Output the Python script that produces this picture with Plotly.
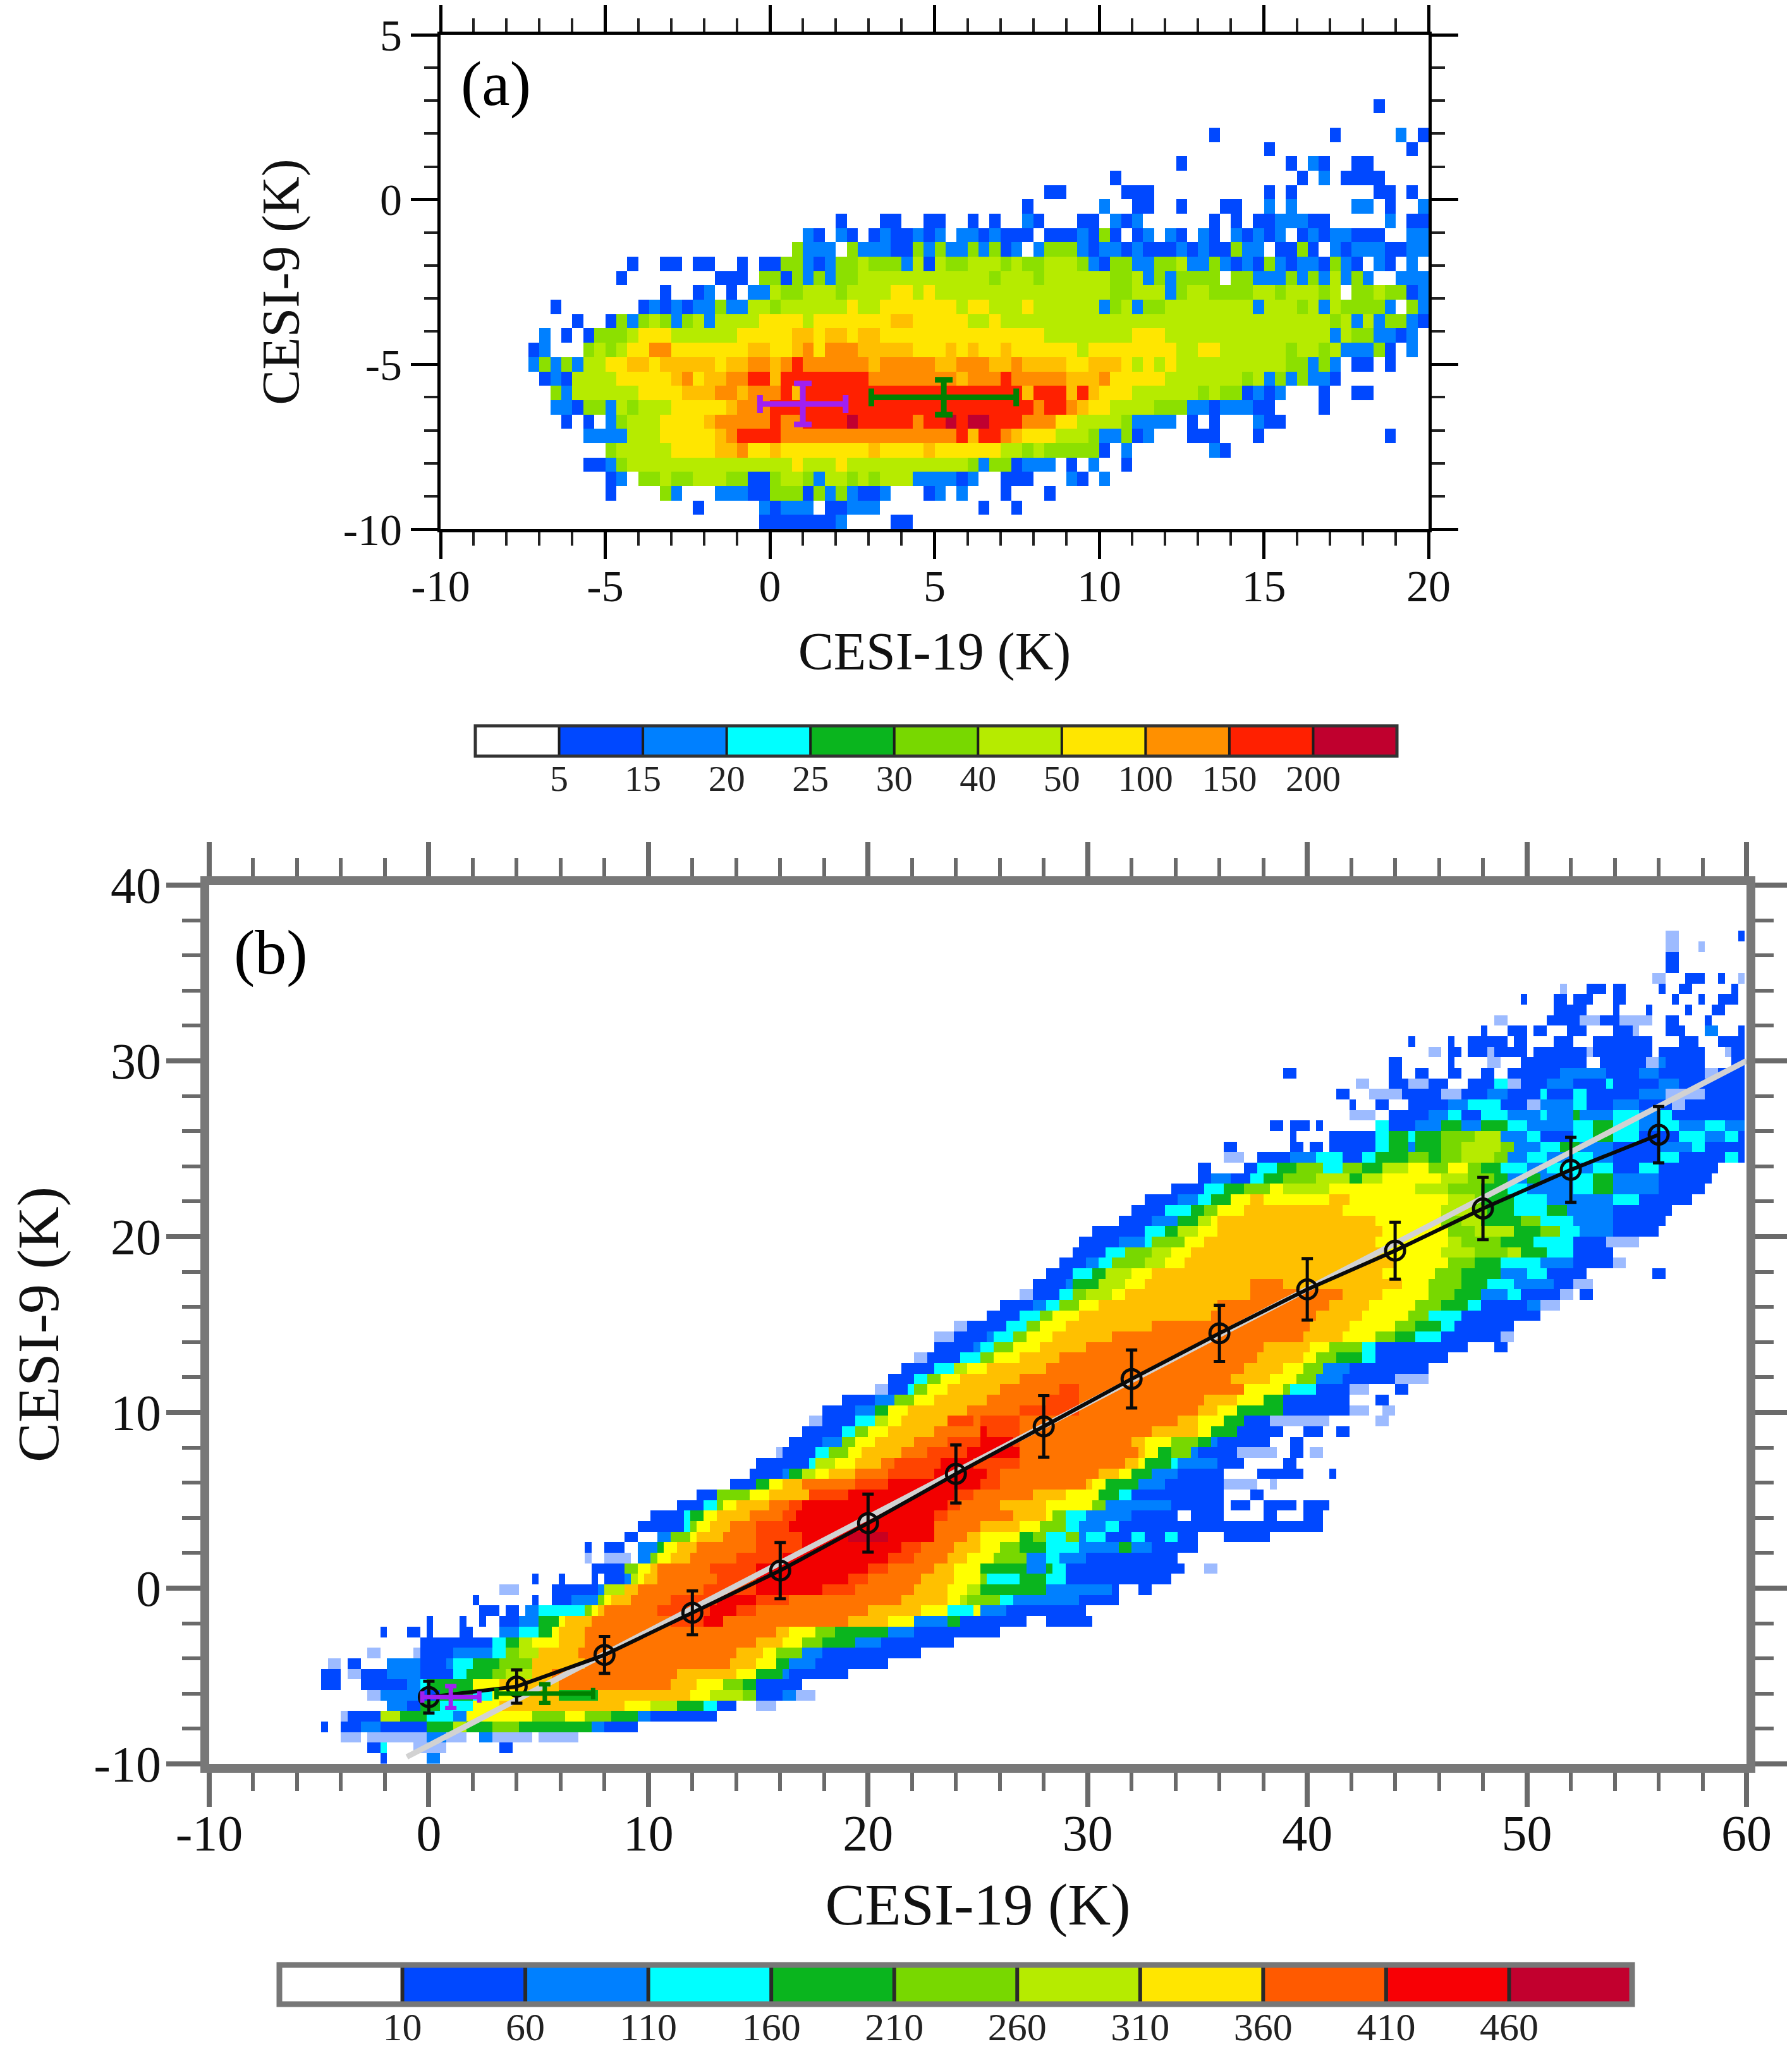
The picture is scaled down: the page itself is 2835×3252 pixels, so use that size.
"""Two-panel CESI-9 vs CESI-19 density scatter, rebuilt from class maps read off the figure."""

import numpy as np
import plotly.graph_objects as go

# page body keeps its default 8px margin, so the figure is that much smaller
PAD = 8
W, H = 2835 - 2 * PAD, 3252 - PAD
SERIF = "Liberation Serif, Times New Roman, serif"

# ── class colours ───────────────────────────────────────────────────────────
COLORS_A = ["#FFFFFF", "#0048FF", "#0080FF", "#00FFFF", "#0AB51E", "#8CE000",
            "#B6EB00", "#FFE600", "#FFBF00", "#FF8C00", "#FF2000", "#C00030"]
COLORS_B = ["#FFFFFF", "#0048FF", "#0080FF", "#00FFFF", "#0AB51E", "#78D800",
            "#B6EB00", "#FFFF00", "#FFC000", "#FF7400", "#FF4400", "#F20000",
            "#C80020", "#9DBBFF"]
BAR_COLORS_A = ["#FFFFFF", "#0048FF", "#0080FF", "#00FFFF", "#0AB51E", "#78D800",
                "#B6EB00", "#FFE600", "#FF9000", "#FF2000", "#C0002E"]
BAR_COLORS_B = ["#FFFFFF", "#0048FF", "#0080FF", "#00FFFF", "#0AB51E", "#78D800",
                "#B6EB00", "#FFE600", "#FF5A00", "#F80005", "#C2002E"]
BAR_LABELS_A = ["5", "15", "20", "25", "30", "40", "50", "100", "150", "200"]
BAR_LABELS_B = ["10", "60", "110", "160", "210", "260", "310", "360", "410", "460"]

# ── panel (a): row | column:class runs (column = 1/3 K, row = 0.435 K) ──────
ROWS_A = [
    "29|85:1 86:0",
    "27|70:1 71:0 81:1 82:0 87:2 88:0 89:1",
    "26|75:1 76:0 88:1 89:0",
    "25|67:1 68:0 77:1 78:0 79:2 80:1 81:0 83:1 85:0",
    "24|61:1 62:0 78:1 79:0 80:2 81:0 82:1 86:0",
    "23|55:1 57:0 62:1 65:0 75:1 76:0 77:1 78:0 85:1 87:0 88:1 89:0",
    "22|53:1 54:0 60:2 61:0 63:1 65:0 67:1 68:0 71:1 73:0 75:2 76:0 77:2 78:0 83:2 85:0 86:1 87:0 89:2",
    "21|36:1 37:0 40:1 42:0 44:1 46:0 48:1 49:0 50:1 51:0 53:2 54:1 55:0 58:1 60:0 61:2 62:1 63:2 64:0 70:1 71:0 72:1 73:0 74:1 76:2 79:1 81:0 86:2 87:0 88:1",
    "20|33:2 34:1 35:0 36:2 37:1 38:0 39:1 40:2 41:1 43:2 44:1 45:2 46:0 47:2 49:1 50:2 51:1 54:0 55:1 58:2 59:1 60:5 61:1 62:0 63:1 64:2 65:0 66:2 67:1 68:0 69:2 70:1 71:0 72:2 73:1 74:2 75:1 76:2 77:0 78:1 79:2 80:1 81:2 83:1 86:0 88:2",
    "19|32:5 33:2 36:0 37:5 38:2 41:1 43:5 44:2 45:5 46:2 48:5 49:2 50:5 51:1 52:2 53:0 54:2 55:5 58:2 59:1 60:2 62:1 63:2 64:1 67:2 68:1 69:2 70:1 72:5 73:2 75:0 76:1 78:5 79:1 80:0 81:2 82:1 83:2 86:1 88:2",
    "18|17:1 18:0 20:1 22:0 23:1 25:0 27:1 28:0 29:1 31:5 33:2 34:1 35:2 36:5 38:6 39:5 42:2 43:6 44:1 45:6 46:5 48:6 51:5 52:6 53:5 55:6 58:5 59:2 60:1 61:5 63:2 65:5 67:6 68:2 70:5 71:2 72:1 73:2 74:1 75:5 76:2 77:1 78:2 80:1 81:5 82:2 83:1 84:0 85:2 86:1 87:0 88:2 89:0",
    "17|16:1 17:0 25:1 28:0 29:5 31:1 32:5 33:2 34:5 35:2 36:5 38:6 50:5 51:6 54:5 55:6 61:5 63:6 64:2 65:5 66:2 67:5 71:0 72:5 74:2 77:5 78:2 79:5 80:2 81:6 82:2 83:5 84:2 85:0 87:2",
    "16|20:1 21:0 23:1 24:2 25:0 26:1 27:0 28:2 30:6 31:5 33:6 36:5 37:6 41:7 43:6 44:7 45:6 61:5 63:6 66:2 67:5 68:6 70:5 74:6 76:5 77:6 80:5 81:6 82:0 83:5 85:6 86:5 88:1 89:2",
    "15|10:1 11:0 18:1 19:2 20:1 21:2 22:1 23:2 25:5 26:2 28:6 30:5 31:6 37:7 38:6 40:7 47:6 48:7 50:6 53:7 54:6 60:2 61:5 62:6 63:2 64:5 66:6 74:2 75:6 78:5 79:6 80:2 81:6 82:5 86:2 87:0 88:5 89:2",
    "14|12:1 13:0 15:1 16:5 17:2 18:5 19:6 20:5 21:2 22:5 23:6 24:2 25:6 29:7 33:6 34:7 41:8 43:7 48:6 50:7 51:6 81:5 82:6 83:2 84:6 85:2 86:5 88:2 89:1",
    "13|9:2 10:0 11:1 12:0 13:1 14:5 17:6 18:7 21:6 27:7 32:8 34:7 35:8 37:7 38:8 40:7 55:6 63:7 66:6 81:2 82:6 83:5 85:2 87:1 88:2 89:0",
    "12|8:1 9:2 10:0 13:5 14:6 15:5 16:6 17:7 19:9 21:7 28:8 30:7 32:8 33:9 34:7 35:9 38:8 43:7 46:8 47:7 48:8 49:7 51:8 52:7 58:6 59:7 67:6 69:7 71:6 77:5 78:6 80:5 81:6 82:2 85:5 86:1 87:0 88:2 89:0",
    "11|8:2 9:5 10:2 11:5 12:2 13:6 15:7 17:8 19:7 20:8 25:7 26:8 28:9 30:8 31:9 32:A 33:9 39:8 40:9 45:8 47:9 50:8 52:9 53:8 57:7 59:8 62:7 63:6 64:7 65:6 66:7 67:6 77:5 79:2 80:5 81:2 82:0 83:1 85:0 86:1 87:0",
    "10|9:1 10:2 11:1 12:6 16:7 21:8 22:9 23:7 24:8 26:9 28:A 30:8 31:A 39:9 47:8 48:9 51:A 52:9 57:8 60:9 61:7 66:6 73:5 74:6 75:2 76:5 77:2 78:5 79:2 81:1 82:0",
    "9|10:5 11:2 12:6 18:7 22:8 25:9 27:8 28:9 31:A 32:8 33:A 53:8 54:A 57:8 58:A 59:8 60:7 63:6 69:5 70:6 71:5 73:1 74:2 75:1 76:2 77:0 80:1 81:0 83:1 85:0",
    "8|10:2 12:1 13:5 15:2 16:6 17:5 18:6 21:7 26:8 27:9 30:A 54:9 55:A 57:9 58:8 59:7 61:6 65:5 68:2 70:1 71:2 74:1 76:0 80:1 81:0",
    "7|11:1 12:0 13:1 14:0 15:2 16:5 17:6 20:7 24:8 25:9 30:A 31:9 33:A 37:B 38:A 43:9 44:A 46:B 47:A 48:B 50:A 53:9 56:7 58:6 62:5 63:2 67:0 68:1 69:0 70:1 71:0 74:2 75:1 77:0",
    "6|13:2 17:6 20:7 25:8 26:9 27:A 31:9 47:A 48:8 49:A 51:9 52:8 53:7 56:6 59:5 60:2 62:5 63:1 64:2 65:0 68:1 71:0 74:1 75:0 86:1 87:0",
    "5|15:5 16:6 21:7 25:8 27:9 28:7 30:8 31:7 39:8 40:7 44:8 45:7 51:6 53:5 54:6 55:5 60:1 61:0 62:2 63:0 70:2 71:1 72:0",
    "4|13:1 15:2 16:5 17:6 32:7 33:6 36:7 37:6 48:5 49:2 50:5 52:1 53:2 56:0 57:1 58:0 59:2 60:0 62:1 63:0",
    "3|15:1 16:2 17:0 18:5 20:6 21:5 23:6 26:5 28:1 30:5 31:6 33:5 34:2 35:6 37:5 38:6 39:5 40:6 43:2 47:1 48:2 49:0 51:1 54:0 57:2 58:1 59:0 60:2 61:0",
    "2|15:1 16:0 20:5 21:2 22:0 25:2 28:1 30:5 33:1 34:5 35:2 36:5 37:2 38:1 40:2 41:0 44:1 45:2 46:0 47:2 48:0 51:1 52:0 55:1 56:0",
    "1|23:1 24:0 29:2 30:1 31:2 34:0 35:1 37:2 40:0 49:1 50:0 52:1 53:0",
    "0|29:1 36:2 37:0 41:1 43:0",
]

# ── panel (b): y centre | x(K):class runs ───────────────────────────────────
ROWS_B = [
    "37.1|56.2:D 56.8:0 59.7:1",
    "36.5|56.2:D 56.8:0 57.7:D 58.1:0",
    "35.9|56.3:1 56.9:0",
    "35.3|56.3:1 56.9:0",
    "34.7|55.6:D 56.3:0 57.3:1 58.2:0 58.8:1 59.1:0 59.7:D",
    "34.1|51.5:D 51.8:0 52.8:1 53.7:0 54:1 54.5:0 56:1 56.2:0 57:1 57.6:0 59.2:1 59.5:0",
    "33.5|49.6:1 49.9:0 51.3:1 51.8:0 52:1 53:0 53.9:1 54.5:0 56.5:1 56.8:0 57.8:1 58.1:0 58.8:1 59.5:0",
    "32.9|51.3:1 52.7:0 53.9:1 54.3:0 55.4:1 55.8:0 57.2:1 57.6:0 58.4:1 59:0",
    "32.3|48.4:D 49.1:0 51:1 52.3:D 53.2:1 54.2:D 55.8:0 56.3:1 56.8:0 58:1 58.4:0",
    "31.7|47.8:1 48.1:0 49.2:1 50:0 50.4:1 50.9:0 51.9:1 52.7:0 53.9:1 54.9:D 55.2:0 56.3:1 57.2:0 58:2 58.7:0 59.7:1",
    "31.1|44.6:1 45:0 46.3:1 46.8:0 47.2:1 49.1:0 49.3:1 50:0 51.1:1 52:0 53:1 53.8:0 54:1 55.8:0 57:1 57.8:0 58.8:1",
    "30.5|45.5:D 46:0 46.3:1 46.9:0 47.4:1 48.1:D 48.4:1 50:0 50.4:1 52.7:D 53:1 55.8:0 56.1:1 58.2:0 58.9:D 59.4:1",
    "29.9|43.8:1 44.2:0 46.3:1 46.8:0 48.2:D 48.8:0 49.6:1 52.8:0 53.4:1 55.4:D 56:2 56.4:1 58.2:0 59.2:1",
    "29.3|39:1 39.6:0 43.8:1 44.3:0 45:1 45.5:0 46.3:1 47:0 47.9:1 48.4:0 49.2:1 51.5:2 53.5:1 55:2 56:1 58.2:D 58.7:1",
    "28.7|42.2:D 42.7:0 43.8:1 44.6:D 45.5:1 46.3:0 47.2:1 48.4:3 49:D 49.6:1 51:2 52:1 53.5:3 54:1 56:2 57:1 60:0",
    "28.1|41.3:1 41.8:0 42.8:D 44.4:1 46:D 47:1 48.2:2 49:1 50.6:3 51:1 52:3 52.6:1 55:2 56.4:D 58:1",
    "27.5|42:1 42.2:0 43.1:1 43.7:0 44.6:1 46.5:2 47.2:3 48.9:1 50:D 50.7:2 52:3 52.6:1 54:2 55:1 56.5:D 57.2:1",
    "26.9|42:D 43:0 43.7:1 45.5:2 46.5:3 47:1 48:3 49:2 50.6:3 51:2 52:4 52.5:2 54:3 55:2 56:3 56.5:1",
    "26.3|38.2:1 38.8:0 39.1:1 40:0 40.5:1 40.8:0 43:3 43.7:1 45:2 46:4 47:2 48:4 49:3 50:2 52:3 53:4 54:3 55:2 56:3 57:2 58:3 59:2",
    "25.7|39.1:1 39.6:0 41.1:1 43.1:3 43.7:4 44.6:3 45:4 46:5 47.5:6 48.9:2 50:3 50.6:1 52:3 53:4 54:3 55:1 57:3 58:2 59:3 59.6:1",
    "25.1|36.3:1 36.9:0 39.3:1 39.7:0 40.2:1 40.8:0 41.1:1 43.1:3 43.7:4 44.6:2 45:4 46:5 47:6 48.9:5 49.4:2 50.5:3 51.5:4 52.3:2 54:1 56:2 57.5:3 58:1",
    "24.5|36.3:D 37:0 37.8:1 39.2:2 40.5:3 41.5:1 42.4:3 43.2:4 44.5:5 45.5:4 46:5 47:6 48.5:5 49:2 50:3 51:2 52:3 53:2 54:1 56:3 57:1 59:3 59.6:1",
    "23.9|35:1 35.6:0 37:1 37.8:3 38.6:4 39.6:5 40.8:3 41.6:5 42.5:4 43.5:6 44.5:7 45.4:5 46.3:7 47.2:5 48:4 48.9:3 50:2 51:3 52.5:2 53:3 54:1 55:3 56:1 58.8:0",
    "23.3|35:1 35.5:2 36.6:1 37.4:3 38:4 39:5 40.5:6 41.8:4 42.4:6 43.5:7 46:6 47.3:5 48.4:4 49:2 50:4 50.7:2 52:3 53:4 54:2 56:1 58.5:0",
    "22.7|33.9:1 35.4:3 36.2:4 37.2:5 38.4:7 39:6 41:7 45:6 46.5:5 47.8:4 49:3 50:2 52:3 53:4 54:2 56:1 58.2:0",
    "22.1|32.7:1 34:2 35:3 35.6:4 36.5:7 37.5:8 38:7 41:8 42:7 46.3:6 47.5:5 48:4 49.3:3 51:2 54:3 55:1 57.4:0",
    "21.5|32:1 33.5:3 34.6:4 35.2:5 36:7 37:8 41.5:7 46:6 47.5:5 48.2:4 49.5:3 51:4 51.8:2 54:1 56.7:0",
    "20.9|31.3:1 33:2 34:4 35:6 35.5:7 36:8 43:7 46:5 47:6 48:4 49.7:5 50.6:3 52:2 53.8:1 56.3:0",
    "20.3|30.2:1 32.5:3 33.4:4 34.2:6 35:7 36:8 43.5:7 46.5:5 47.5:6 49.5:4 50.6:5 51.5:3 52.5:2 54:1 56:0",
    "19.7|29.7:1 31.5:2 32.6:3 33:5 34.5:7 35.2:8 43:7 46.3:6 47:5 48.7:4 50.2:3 52:1 53.7:D 55.2:0",
    "19.1|29.3:1 30.8:3 31.6:5 33:6 33.8:7 34.8:8 43.5:7 46.2:6 47.5:5 49:6 49.8:4 51:3 52.2:1 54:0",
    "18.5|28.7:1 30:2 30.5:3 31:5 32.5:6 33.4:7 34.4:8 44:7 46.5:5 47.6:4 48.8:3 50.5:2 52:1 53.8:D 54.5:0",
    "17.9|28:1 29.3:3 30.2:4 30.7:6 32:7 33:8 43.5:7 45.8:5 47:4 48.7:2 50:3 51:1 52.8:0 55.7:1 56.3:0",
    "17.3|27.5:1 29:2 29.4:4 30.5:6 31.6:7 32.5:8 37.5:9 39:8 44.2:7 45.6:5 47:4 48.3:3 49.5:2 51.3:1 52.2:D 53:0",
    "16.7|27:D 27.5:1 28.7:3 29.3:5 30:6 31:7 31.7:8 37.5:9 41.5:8 43.5:7 45.5:5 46.7:4 47.8:2 49:3 49.8:1 51.5:D 52:0 52.4:1 53:0",
    "16.1|26:1 27.5:2 28.2:3 28.8:5 29.5:7 30.5:8 36:9 41:8 42.7:7 44.8:5 46:4 47.3:3 48:1 50:2 50.7:D 51.5:0",
    "15.5|25.5:1 27:3 27.8:5 28.5:7 29.5:8 35.5:9 40.5:8 42.5:7 44.5:5 45.5:3 47:1 50.6:0",
    "14.9|23.8:D 24.5:1 26.3:3 27.1:5 27.9:7 29:8 33:9 40:8 42:7 44:5 45:4 46:3 46.8:1 49.5:0",
    "14.3|22.9:D 24:1 25.5:2 25.8:3 26.5:5 27.3:7 28.5:8 31:9 39.8:8 41.6:7 43:5 44:4 45:3 46:1 48.7:D 49.3:0",
    "13.7|23:1 24.7:2 25.2:3 25.7:5 26.5:7 27.7:8 30:9 38:8 40.1:7 41:5 42.6:3 43:1 47.4:0 48.5:1 49:0",
    "13.1|22:D 22.6:1 24.2:3 25:5 25.7:7 26.8:8 28.8:9 37.7:8 39.8:7 40.5:5 41.3:4 42.6:3 43:1 46.3:0",
    "12.5|21.5:1 23:3 23.8:6 24.6:7 25.5:8 28:9 37:8 38.8:7 39.8:5 40.8:2 42:1 45.5:0",
    "11.9|20.8:1 22.1:3 22.7:5 23.3:7 24.2:8 27:9 36.5:8 38.3:7 39.5:5 40.5:2 41.7:1 44:D 45.5:0",
    "11.3|20.3:D 20.9:1 21.7:3 22.2:5 22.8:7 23.5:8 26:9 28.8:A 29.7:9 37:7 38.8:5 39.2:3 40.4:1 41.8:D 42.7:0 44:1 44.6:0",
    "10.7|18.8:1 20.3:2 21.2:5 22:7 23:8 25.5:9 28:A 29.7:9 35.4:8 36.9:7 38:4 39:1 41.9:0 43.2:1 43.8:0",
    "10.1|17.9:1 19.5:2 20.2:4 20.9:7 21.8:8 24.5:9 27:A 29.7:9 35:8 35.9:7 36.9:4 38.8:1 41.9:D 42.7:0 43.3:D 44:0",
    "9.5|17.3:D 18:1 19.5:3 20.2:6 20.8:7 21.5:8 23.7:A 24.7:9 25:A 27:9 34:8 35:7 36.3:4 37:1 38.3:D 41:0 43.2:D 43.8:0",
    "8.9|16.9:1 18.7:3 19.4:5 20:7 21:8 23:9 25:B 25.5:A 27:9 33:8 34.9:7 35.5:4 36.9:1 38.8:0 39.8:1 40.8:0 41.4:1 41.8:0",
    "8.3|16.5:1 18:2 18.8:5 19.5:7 20.4:8 22:9 23.7:A 25:B 26.5:A 27:9 32:8 32.7:7 33.8:5 35:4 35.6:2 36:1 38.3:0 39.2:1 39.7:0",
    "7.7|15.7:D 16:1 17.7:3 18.2:5 19:7 19.8:8 21.5:9 22.7:A 24.5:B 27:9 32.3:8 32.7:7 33.2:4 33.8:5 34.8:2 35:1 36.9:D 38.6:0 39.2:1 39.7:0 40.2:D 40.6:0",
    "7.1|15:1 17.2:3 17.7:6 18.5:7 19.5:8 20.5:9 21.2:A 23.4:B 24.9:A 26.8:9 31.6:8 32.3:7 32.7:4 33.8:3 34:2 35.8:1 37.2:0 39:1 39.5:0",
    "6.5|14.5:1 16:2 16.5:4 17:6 17.5:7 18.3:8 19.5:9 21:A 23:B 25.3:A 26:9 30.5:8 31.3:7 32:4 33:2 34:1 36.3:0 37.7:1 39.8:0 41:1 41.3:0",
    "5.9|13.8:1 15:4 15.4:7 16.1:8 17.1:9 19.4:A 21:B 25:A 26:9 29.8:8 30.3:7 30.8:4 32.2:2 33.5:1 36.3:D 37.6:0 38.3:D 38.7:0",
    "5.3|12.3:1 13.1:5 14.6:7 15.4:8 17.3:A 19:B 24:A 24.7:9 27.5:8 29:7 30.5:4 31.3:3 31.9:1 36.1:0 37.3:1 38:0",
    "4.7|11.4:1 12.6:3 13:5 13.5:7 14:8 15.5:9 16.5:A 17:B 23.5:A 24.2:9 26:8 28:7 30.1:5 30.8:2 33.8:1 36.3:0 36.6:1 37.4:0 38:1 39.4:0 39.7:1 41:0",
    "4.1|10.1:1 11.5:3 12:4 12.4:7 13:8 14.5:9 16:A 16.8:B 23:A 23.7:9 26.6:8 28:7 28.3:5 29:3 30:2 31.9:1 34:0 34.7:1 36.1:0 38.1:1 38.6:0 39.7:1 40.8:0",
    "3.5|9.6:1 11.5:3 11.9:5 12.3:7 12.8:8 13.7:9 15:A 16.5:B 23:9 25.1:8 27:7 27.9:5 29.1:3 29.5:2 30.7:3 31.3:1 40.8:0",
    "2.9|8.8:1 9.6:0 10.4:2 11.1:5 11.8:7 12.2:8 13.3:9 15:A 17:B 19:C 21:B 23:9 24.5:8 25:7 26.9:4 27.6:5 28:3 29:5 29.5:2 30:3 30.8:1 32:3 32.7:1 33.5:3 34:1 35:0 36.3:1 38.2:0",
    "2.3|7:1 7.3:0 8.1:1 8.9:0 9.6:2 10.4:4 10.8:7 11.3:8 12.1:9 15:A 17:B 21.5:A 22.5:9 24:8 25:7 26.1:5 27:4 28:3 29.5:2 31.3:4 31.9:2 33:1 35:0",
    "1.7|7:D 7.5:0 8.1:D 9.1:0 9.6:2 10:5 10.4:7 11:8 11.9:9 14:A 16:B 21:A 22:9 23.7:8 24.5:7 25.8:5 27.2:2 28:3 28.6:2 30:1 34:0",
    "1.1|7.5:1 8.9:4 9:5 9.6:7 10:8 10.4:9 12.9:A 15:B 20:A 21:9 23:8 24:7 25:4 27.2:2 28:4 28.4:3 29:1 34.5:0 35.4:D 36:0",
    "0.5|4.7:1 5:0 6:1 6.2:0 7.3:1 7.8:0 8.1:1 8.8:2 9.1:6 9.4:7 9.7:8 10.4:9 13:A 15:B 19:A 20:9 22.4:8 24:7 25:5 25.4:3 27:4 28:3 29.1:1 33.9:0",
    "-0.1|3.2:D 4:0 5.5:1 7.8:2 8.1:6 8.8:8 9.6:9 12.6:A 15:B 18:A 19.5:9 22:8 23.6:7 24.5:6 25:4 28:2 31:1 31.5:0 32.3:1 33:0",
    "-0.7|1.9:1 2.2:0 4.7:1 5:0 5.5:1 6.5:2 7.6:5 7.9:7 8.2:8 9.3:9 10.9:A 13:B 15:A 16.5:9 21.5:8 23.5:7 24.3:6 24.6:5 25.9:3 26.5:2 29.5:1 31.4:0",
    "-1.3|2.3:1 3.2:0 3.5:1 4:0 4.3:2 5:3 7:5 7.3:7 7.8:8 8.1:9 10.4:A 12.9:B 14:A 15:9 20:8 22.5:7 23.6:3 24.7:7 25:2 26.3:1 28:0 28.2:1 30:0",
    "-1.9|0:1 0.3:0 1.3:1 1.8:0 2.3:1 2.7:0 3.2:1 4.2:2 5:4 5.8:7 6.3:8 7.5:9 11:A 12.6:B 13.5:9 19:8 21:7 22:2 23.6:4 24.3:1 27.2:0 28.2:1 30.2:0",
    "-2.5|-2.2:1 -1.9:0 -1:1 -0.5:0 0:1 0.3:0 1.3:1 2:0 3.2:2 4:3 5:4 5.6:7 6:8 7.1:9 15.7:8 16.5:7 17.5:5 18.5:4 21:2 22:1 25.9:0",
    "-3.1|-0.3:1 2.8:3 3.5:4 4:6 4.8:7 5.8:8 7.1:9 14.8:8 16:7 17:5 18:4 19.5:2 20.5:1 24:0",
    "-3.7|-2.8:D -2.3:0 -0.8:D -0.3:1 1:2 2.8:3 3.6:5 4:6 5:8 6.8:9 14:8 15.2:7 15.8:5 17:2 18:1 22.3:0",
    "-4.3|-4.5:D -4:0 -3.6:1 -3.1:0 -1.8:2 -0.5:1 0.7:2 1:3 2:4 3.2:5 4.8:8 7.1:9 13.7:8 15:7 15.7:4 16.5:2 17.5:1 21:0",
    "-4.9|-5:1 -4.1:0 -3.6:D -3:1 -1.9:2 -0.5:1 1:3 1.8:4 2.8:5 3.6:6 4.7:8 5.6:9 11.3:8 14:7 15:4 16:2 16.5:1 19:0",
    "-5.5|-5:1 -4.1:0 -3.1:1 -1:2 -0.5:3 0:4 2:7 3.2:8 5.9:9 10.9:8 12.2:7 13.3:5 14.3:4 15:1 17:0",
    "-6.1|-2.8:D -2.1:2 -0.3:1 0.5:4 2:3 3:7 4:8 6:4 7.8:8 11.9:7 12.9:6 14.4:5 15:1 16:2 16.8:D 17.5:0",
    "-6.7|-1.9:2 -1:1 -0.3:4 0.5:3 2:7 3.2:8 8.8:7 10:6 11.2:4 12.5:3 13:1 13.9:0 15:D 15.8:0",
    "-7.3|-4:D -3.8:1 -2.3:6 -1.3:4 -0.2:3 1:2 1.7:7 4.8:5 6.3:7 7.1:5 8.3:4 9.6:2 10:1 11.9:0 12:1 13:0",
    "-7.9|-5:1 -4.6:0 -4.1:1 -3:2 -2.1:1 0:4 1:6 1.7:4 3:5 4:4 7.3:2 8.1:1 9.6:0",
    "-8.5|-4.1:D -3.1:0 -2.7:D 0:2 0.7:D 1.8:0 2.3:2 3:D 4.6:0 5:D 6.9:0",
    "-9.1|-2.7:1 -2.3:3 -1.9:0 -0.8:D -0.2:0 0:D 0.8:0 3.2:1 3.7:0",
    "-9.7|-2.3:1 -1.9:0 0:2 0.4:0",
]

# ── means with spread ───────────────────────────────────────────────────────
BIN_X = [0, 4, 8, 12, 16, 20, 24, 28, 32, 36, 40, 44, 48, 52, 56]
BIN_Y = [-6.2, -5.6, -3.8, -1.4, 1.0, 3.7, 6.5, 9.2, 11.9, 14.5, 17.0, 19.2, 21.6, 23.8, 25.8]
BIN_SD = [0.9, 0.95, 1.05, 1.25, 1.6, 1.65, 1.65, 1.75, 1.65, 1.6, 1.75, 1.62, 1.77, 1.85, 1.6]
FIT_X = [-1, 60]
FIT_Y = [-9.6, 30]
PURPLE = dict(x=1.0, y=-6.2, dx=1.3, dy=0.62)
GREEN = dict(x=5.28, y=-6.0, dx=2.2, dy=0.53)

TICKS_A_X = [-10, -5, 0, 5, 10, 15, 20]
TICKS_A_Y = [-10, -5, 0, 5]
TICKS_B_X = [-10, 0, 10, 20, 30, 40, 50, 60]
TICKS_B_Y = [-10, 0, 10, 20, 30, 40]


def discrete_scale(colors):
    n = len(colors)
    scale = []
    for i, c in enumerate(colors):
        scale += [[i / n, c], [(i + 1) / n, c]]
    return scale


def decode_a():
    z = np.zeros((34, 90), dtype=int)
    for row in ROWS_A:
        k, runs = row.split("|")
        pairs = [r.split(":") for r in runs.split()]
        for i, (c, v) in enumerate(pairs):
            end = int(pairs[i + 1][0]) if i + 1 < len(pairs) else 90
            z[int(k), int(c):end] = int(v, 16)
    return z


def decode_b():
    z = np.zeros((80, 233), dtype=int)
    for row in ROWS_B:
        y, runs = row.split("|")
        j = int(round((float(y) + 9.7) / 0.6))
        pairs = [r.split(":") for r in runs.split()]
        for i, (x, v) in enumerate(pairs):
            c0 = int(round((float(x) + 10) / 0.3))
            c1 = int(round((float(pairs[i + 1][0]) + 10) / 0.3)) if i + 1 < len(pairs) else 233
            z[j, c0:c1] = int(v, 16)
    return z


def dom_x(a, b):
    return [(a - PAD) / W, (b - PAD) / W]


def dom_y(top, bottom):
    return [1 - (bottom - PAD) / H, 1 - (top - PAD) / H]


def axis(domain, rng, ticks, anchor, title, size, title_size, standoff, label_shift, **kw):
    return dict(
        domain=domain, range=rng, anchor=anchor, automargin=False,
        tickmode="array", tickvals=ticks, ticktext=[str(t) for t in ticks],
        tickfont=dict(family=SERIF, size=size, color="#111"), ticklabelstandoff=label_shift,
        title=dict(text=title, font=dict(family=SERIF, size=title_size, color="#111"), standoff=standoff),
        ticks="outside", mirror="ticks", showline=True,
        showgrid=False, zeroline=False, **kw,
    )


def bar_axis(domain, labels, anchor, size, label_shift):
    return dict(
        domain=domain, range=[-0.5, 10.5], anchor=anchor, automargin=False,
        tickmode="array", tickvals=[i + 0.5 for i in range(len(labels))], ticktext=labels,
        tickfont=dict(family=SERIF, size=size, color="#222"), ticks="", ticklabelstandoff=label_shift,
        showline=False, showgrid=False, zeroline=False,
    )


fig = go.Figure()

fig.add_trace(go.Heatmap(
    z=decode_a(), x0=-10 + 1 / 6, dx=1 / 3, y0=-10 + 0.2175, dy=0.435,
    colorscale=discrete_scale(COLORS_A), zmin=-0.5, zmax=len(COLORS_A) - 0.5,
    showscale=False, xaxis="x", yaxis="y", hoverinfo="skip",
))
fig.add_trace(go.Heatmap(
    z=decode_b(), x0=-9.85, dx=0.3, y0=-9.7, dy=0.6,
    colorscale=discrete_scale(COLORS_B), zmin=-0.5, zmax=len(COLORS_B) - 0.5,
    showscale=False, xaxis="x2", yaxis="y2", hoverinfo="skip",
))

for ref_x, ref_y, thick, cap in (("x", "y", 9, 14), ("x2", "y2", 7, 9)):
    if ref_x == "x2":
        fig.add_trace(go.Scatter(
            x=FIT_X, y=FIT_Y, mode="lines", line=dict(color="#D2D2D2", width=9),
            xaxis=ref_x, yaxis=ref_y, showlegend=False,
        ))
        fig.add_trace(go.Scatter(
            x=BIN_X, y=BIN_Y, mode="lines+markers",
            line=dict(color="#0A0A0A", width=6),
            marker=dict(symbol="circle-open", size=30, color="#0A0A0A", line=dict(width=5, color="#0A0A0A")),
            error_y=dict(type="data", array=BIN_SD, color="#0A0A0A", thickness=5, width=9),
            xaxis=ref_x, yaxis=ref_y, showlegend=False,
        ))
    for mark, color in ((PURPLE, "#A020F0"), (GREEN, "#008000")):
        fig.add_trace(go.Scatter(
            x=[mark["x"]], y=[mark["y"]], mode="markers", marker=dict(size=1, color=color),
            error_x=dict(type="data", array=[mark["dx"]], color=color, thickness=thick, width=cap),
            error_y=dict(type="data", array=[mark["dy"]], color=color, thickness=thick, width=cap),
            xaxis=ref_x, yaxis=ref_y, showlegend=False,
        ))

# colour bars
fig.add_trace(go.Heatmap(
    z=[list(range(11))], x=list(range(11)), y=[0],
    colorscale=discrete_scale(BAR_COLORS_A), zmin=-0.5, zmax=10.5,
    showscale=False, xaxis="x3", yaxis="y3", hoverinfo="skip",
))
fig.add_trace(go.Heatmap(
    z=[list(range(11))], x=list(range(11)), y=[0],
    colorscale=discrete_scale(BAR_COLORS_B), zmin=-0.5, zmax=10.5,
    showscale=False, xaxis="x4", yaxis="y4", hoverinfo="skip",
))
for i in range(10):
    fig.add_shape(type="line", x0=i + 0.5, x1=i + 0.5, y0=0, y1=1, xref="x3", yref="y3 domain",
                  line=dict(color="#1c1c1c", width=4))
    fig.add_shape(type="line", x0=i + 0.5, x1=i + 0.5, y0=0, y1=1, xref="x4", yref="y4 domain",
                  line=dict(color="#2a2a2a", width=6))
fig.add_shape(type="rect", x0=0, x1=1, y0=0, y1=1, xref="x3 domain", yref="y3 domain",
              line=dict(color="#333", width=5))
fig.add_shape(type="rect", x0=0, x1=1, y0=0, y1=1, xref="x4 domain", yref="y4 domain",
              line=dict(color="#777", width=9))

common_a = dict(linecolor="#000", linewidth=5, ticklen=42, tickwidth=5, tickcolor="#000")
common_b = dict(linecolor="#787878", linewidth=14, ticklen=54, tickwidth=8, tickcolor="#6a6a6a")
minor_a = dict(tick0=-10, dtick=1, ticks="outside", ticklen=21, tickwidth=4, tickcolor="#222")
minor_b = dict(tick0=-10, dtick=2, ticks="outside", ticklen=29, tickwidth=6, tickcolor="#6a6a6a")

fig.update_layout(
    width=W, height=H, margin=dict(l=0, r=0, t=0, b=0, autoexpand=False),
    paper_bgcolor="white", plot_bgcolor="white", showlegend=False,
    xaxis=axis(dom_x(697, 2260), [-10, 20], TICKS_A_X, "y", "CESI-19 (K)", 70, 84, 37, -17, minor=minor_a, **common_a),
    yaxis=axis(dom_y(55, 837), [-10, 5], TICKS_A_Y, "x", "CESI-9 (K)", 70, 84, 43, 0, minor=minor_a, **common_a),
    xaxis2=axis(dom_x(331, 2763), [-10, 60], TICKS_B_X, "y2", "CESI-19 (K)", 80, 94, 41, -27, minor=minor_b, **common_b),
    yaxis2=axis(dom_y(1400, 2790), [-10, 40], TICKS_B_Y, "x2", "CESI-9 (K)", 80, 94, 45, -8, minor=minor_b, **common_b),
    xaxis3=bar_axis(dom_x(752, 2210), BAR_LABELS_A, "y3", 58, -4),
    yaxis3=dict(domain=dom_y(1148, 1196), anchor="x3", range=[-0.5, 0.5], visible=False),
    xaxis4=bar_axis(dom_x(442, 2582), BAR_LABELS_B, "y4", 62, -6),
    yaxis4=dict(domain=dom_y(3108, 3170), anchor="x4", range=[-0.5, 0.5], visible=False),
    annotations=[
        dict(text="(a)", x=(785 - PAD) / W, y=1 - (133 - PAD) / H, xref="paper", yref="paper", showarrow=False,
             xanchor="center", yanchor="middle", font=dict(family=SERIF, size=100, color="#000")),
        dict(text="(b)", x=(428 - PAD) / W, y=1 - (1507 - PAD) / H, xref="paper", yref="paper", showarrow=False,
             xanchor="center", yanchor="middle", font=dict(family=SERIF, size=100, color="#000")),
    ],
)

fig.write_html("out.html")
